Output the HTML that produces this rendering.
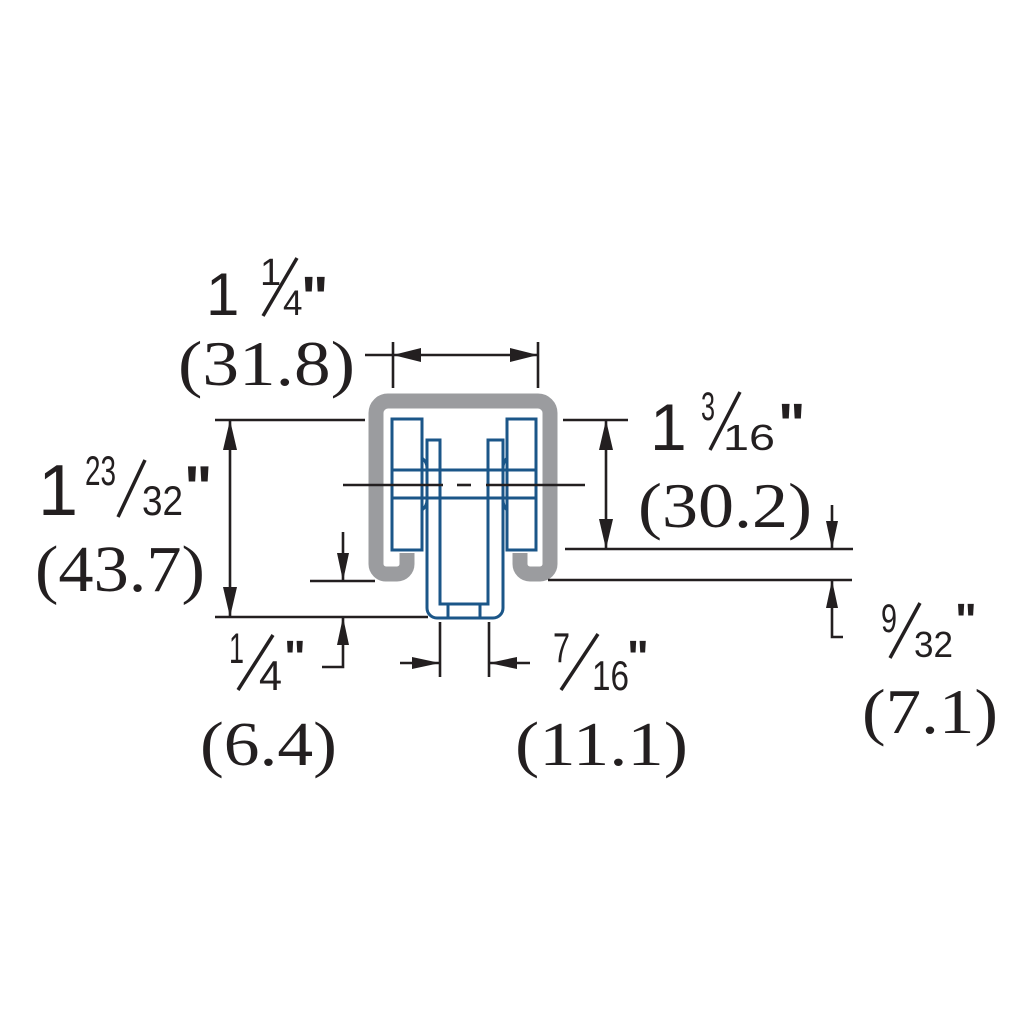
<!DOCTYPE html>
<html><head><meta charset="utf-8"><style>
html,body{margin:0;padding:0;background:#fff;}
svg{display:block;}
.s{font-family:"Liberation Sans",Arial,sans-serif;fill:#231f20;}
.q{font-family:"Liberation Sans",Arial,sans-serif;fill:#231f20;font-weight:bold;}
.r{font-family:"Liberation Serif",serif;fill:#231f20;}
</style></head><body>
<svg width="1024" height="1024" viewBox="0 0 1024 1024" xmlns="http://www.w3.org/2000/svg">
<rect width="1024" height="1024" fill="#fff"/>
<path d="M407 553 V564 a10 10 0 0 1 -10 10 H386 a10 10 0 0 1 -10 -10 V413 a12 12 0 0 1 12 -12 H538 a12 12 0 0 1 12 12 V564 a10 10 0 0 1 -10 10 H530 a10 10 0 0 1 -10 -10 V553" fill="none" stroke="#9b9c9f" stroke-width="15"/>
<g fill="none" stroke="#1b5688" stroke-width="3">
<rect x="392" y="419" width="30" height="131"/>
<rect x="507" y="419" width="29" height="131"/>
<path d="M427 440 H440 V604 H488 V440 H503 V608 a10 10 0 0 1 -10 10 H437 a10 10 0 0 1 -10 -10 Z"/>
<line x1="392" y1="470" x2="536" y2="470"/>
<line x1="392" y1="498" x2="536" y2="498"/>
<line x1="448" y1="604" x2="448" y2="618"/>
<line x1="480" y1="604" x2="480" y2="618"/>
<path d="M422 458 Q427 462 427 468 M422 510 Q427 506 427 500 M507 458 Q503 462 503 468 M507 510 Q503 506 503 500"/>
</g>
<g stroke="#231f20" stroke-width="2.6" fill="none">
<line x1="343" y1="485" x2="443" y2="485"/>
<line x1="457" y1="485" x2="471" y2="485"/>
<line x1="486" y1="485" x2="585" y2="485"/>
<line x1="393" y1="342" x2="393" y2="388"/>
<line x1="538" y1="342" x2="538" y2="388"/>
<line x1="365" y1="355" x2="538" y2="355"/>
<line x1="215" y1="420" x2="365" y2="420"/>
<line x1="215" y1="617" x2="428" y2="617"/>
<line x1="230" y1="420" x2="230" y2="617"/>
<line x1="310" y1="581" x2="375" y2="581"/>
<line x1="343" y1="532" x2="343" y2="581"/>
<path d="M343 617 V667 H322"/>
<line x1="563" y1="420" x2="628" y2="420"/>
<line x1="565" y1="549" x2="853" y2="549"/>
<line x1="548" y1="580" x2="852" y2="580"/>
<line x1="606" y1="420" x2="606" y2="549"/>
<line x1="832" y1="505" x2="832" y2="549"/>
<path d="M832 580 V637 H843"/>
<line x1="440" y1="622" x2="440" y2="677"/>
<line x1="489" y1="622" x2="489" y2="677"/>
<line x1="400" y1="663" x2="440" y2="663"/>
<line x1="489" y1="663" x2="530" y2="663"/>
<g stroke-width="3.5">
<line x1="297" y1="258" x2="263" y2="316"/>
<line x1="145" y1="460" x2="118" y2="517"/>
<line x1="740" y1="392" x2="710" y2="450"/>
<line x1="273" y1="635" x2="238" y2="690"/>
<line x1="598" y1="634" x2="561" y2="690"/>
<line x1="920" y1="603" x2="890" y2="658"/>
</g>
</g>
<g fill="#231f20">
<path d="M393 355 l28 -7 v14 z"/>
<path d="M538 355 l-28 -7 v14 z"/>
<path d="M230 420 l-7 30 h14 z"/>
<path d="M230 617 l-7 -30 h14 z"/>
<path d="M606 420 l-7 30 h14 z"/>
<path d="M606 549 l-7 -30 h14 z"/>
<path d="M343 581 l-6 -28 h12 z"/>
<path d="M343 617 l-6 28 h12 z"/>
<path d="M832 549 l-6 -28 h12 z"/>
<path d="M832 580 l-6 28 h12 z"/>
<path d="M440 663 l-28 -6 v12 z"/>
<path d="M489 663 l28 -6 v12 z"/>
</g>
<text class="s" x="206" y="315" font-size="60">1</text>
<text class="s" x="260" y="285" font-size="38">1</text>
<text class="s" x="283" y="315" font-size="35">4</text>
<text class="q" x="301" y="317" font-size="58">"</text>
<text class="r" x="178" y="385" font-size="64" textLength="177" lengthAdjust="spacingAndGlyphs">(31.8)</text>

<text class="s" x="38" y="515" font-size="72">1</text>
<text class="s" x="85" y="485" font-size="42" textLength="31" lengthAdjust="spacingAndGlyphs">23</text>
<text class="s" x="142" y="515" font-size="42" textLength="41" lengthAdjust="spacingAndGlyphs">32</text>
<text class="q" x="184" y="508" font-size="60">"</text>
<text class="r" x="35" y="591" font-size="66" textLength="170" lengthAdjust="spacingAndGlyphs">(43.7)</text>

<text class="s" x="650" y="450" font-size="66">1</text>
<text class="s" x="701" y="420" font-size="40" textLength="14" lengthAdjust="spacingAndGlyphs">3</text>
<text class="s" x="723" y="450" font-size="36" textLength="52" lengthAdjust="spacingAndGlyphs">16</text>
<text class="q" x="778" y="444" font-size="58">"</text>
<text class="r" x="638" y="527" font-size="64" textLength="174" lengthAdjust="spacingAndGlyphs">(30.2)</text>

<text class="s" x="229" y="663" font-size="43" textLength="15" lengthAdjust="spacingAndGlyphs">1</text>
<text class="s" x="259" y="690" font-size="42" textLength="23" lengthAdjust="spacingAndGlyphs">4</text>
<text class="q" x="284" y="673" font-size="46">"</text>
<text class="r" x="200" y="765" font-size="62" textLength="137" lengthAdjust="spacingAndGlyphs">(6.4)</text>

<text class="s" x="553" y="662" font-size="42" textLength="17" lengthAdjust="spacingAndGlyphs">7</text>
<text class="s" x="592" y="690" font-size="42" textLength="37" lengthAdjust="spacingAndGlyphs">16</text>
<text class="q" x="627" y="673" font-size="46">"</text>
<text class="r" x="515" y="765" font-size="62" textLength="173" lengthAdjust="spacingAndGlyphs">(11.1)</text>

<text class="s" x="881" y="632" font-size="40" textLength="16" lengthAdjust="spacingAndGlyphs">9</text>
<text class="s" x="914" y="657" font-size="36" textLength="39" lengthAdjust="spacingAndGlyphs">32</text>
<text class="q" x="955" y="636" font-size="46">"</text>
<text class="r" x="862" y="733" font-size="64" textLength="136" lengthAdjust="spacingAndGlyphs">(7.1)</text>
</svg>
</body></html>
